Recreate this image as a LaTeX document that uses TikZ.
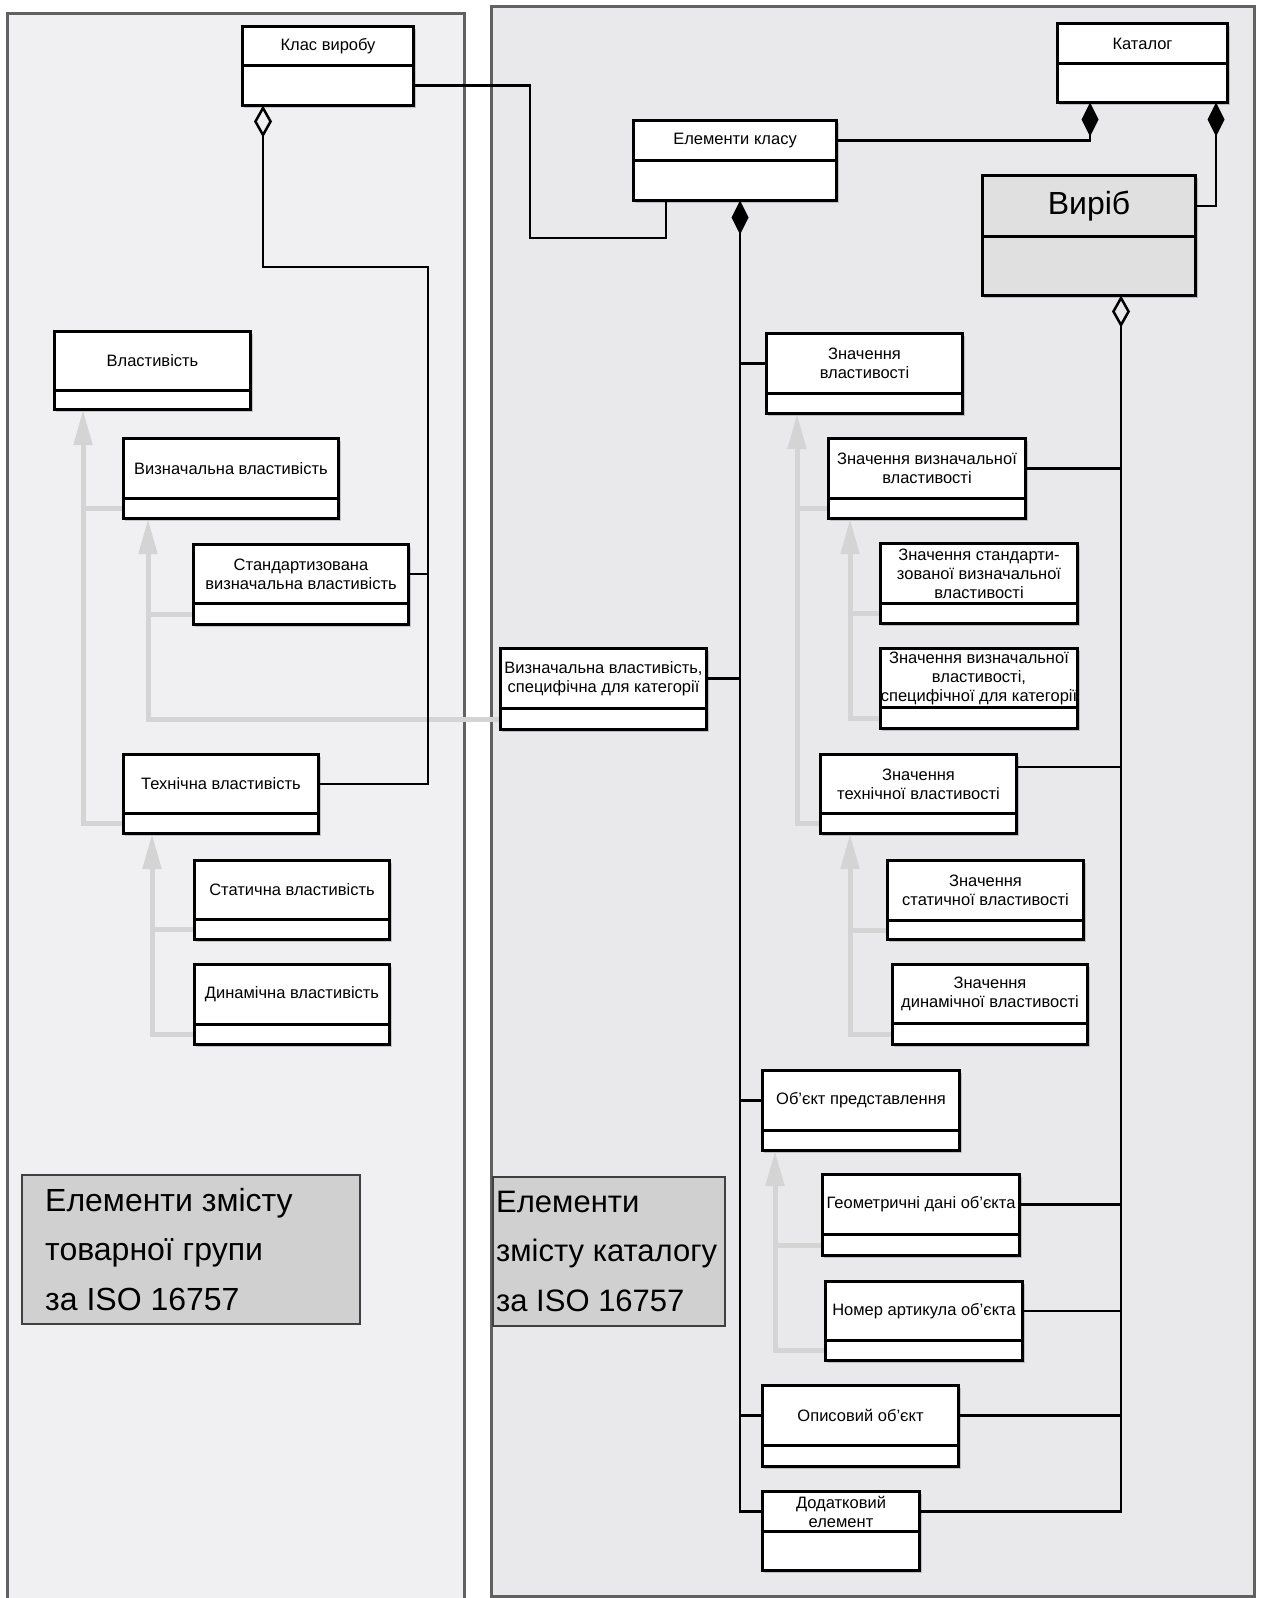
\documentclass[tikz,border=0pt]{standalone}
\usepackage{fontspec}
\setmainfont{Liberation Sans}
\usetikzlibrary{arrows.meta}
\definecolor{panelL}{HTML}{F0F0F2}
\definecolor{panelR}{HTML}{E9E9EC}
\definecolor{panelB}{HTML}{616161}
\definecolor{genc}{HTML}{D4D4D4}
\definecolor{labelc}{HTML}{D0D0D0}
\definecolor{virc}{HTML}{E0E0E0}
\tikzset{
 clsname/.style={draw=black, line width=3pt, fill=white, inner sep=0pt, align=center, font=\fontsize{16.5}{19}\selectfont},
 clsattr/.style={draw=black, line width=3pt, fill=white, inner sep=0pt},
 conn/.style={draw=black, line width=2.5pt},
 agg/.style={conn, {Diamond[open, length=32pt, width=18pt]}-},
 comp/.style={conn, {Diamond[length=34pt, width=17pt]}-},
 genl/.style={draw=genc, line width=5pt},
 gen/.style={genl, -{Triangle[length=35pt, width=18pt]}},
 shadowc/.style={fill=black, opacity=0.18},
 labelbox/.style={draw=black!75, line width=1.5pt, fill=labelc, inner sep=0pt},
 labeltext/.style={inner sep=0pt, align=left, font=\fontsize{31}{49.5}\selectfont},
}
% #1 name, #2 x1, #3 y1, #4 x2, #5 ydiv, #6 y2, #7 text, #8 extra style
\newcommand\umlcls[8]{%
  \fill[shadowc] (#2+3,#3+4) rectangle (#4+4,#6+4);
  \node[clsname,#8,minimum width={(#4-#2)*1pt},minimum height={(#5-#3)*1pt},anchor=north west] (#1) at (#2,#3) {#7};
  \node[clsattr,#8,minimum width={(#4-#2)*1pt},minimum height={(#6-#5)*1pt},anchor=north west] (#1a) at (#2,#5) {};
}
\begin{document}
\begin{tikzpicture}[x=1pt,y=-1pt]
\useasboundingbox (0,0) rectangle (1262,1598);
\fill[white] (0,0) rectangle (1262,1598);
% panels
\fill[panelL] (7,13) rectangle (464,1610);
\draw[panelB, line width=3pt] (7,1610) -- (7,13) -- (464,13) -- (464,1610);
\draw[panelB, fill=panelR, line width=3pt] (491,6) rectangle (1254,1596);

% left classes
\umlcls{klas}{241}{25}{412}{64}{104}{Клас виробу}{}
\umlcls{vl}{53}{330}{249}{389}{408}{Властивість}{}
\umlcls{vyz}{122}{437}{337}{497}{517}{Визначальна властивість}{}
\umlcls{stand}{192}{543}{407}{602}{623}{Стандартизована\\визначальна властивість}{}
\umlcls{tech}{122}{753}{317}{812}{832}{Технічна властивість}{}
\umlcls{stat}{193}{859}{388}{918}{938}{Статична властивість}{}
\umlcls{dyn}{193}{963}{388}{1023}{1043}{Динамічна властивість}{}

% right classes
\umlcls{kat}{1056}{22}{1226}{62}{101}{Каталог}{}
\umlcls{elem}{632}{119}{835}{159}{199}{Елементи класу}{}
\umlcls{vir}{981}{174}{1194}{235}{294}{\fontsize{32}{36}\selectfont Виріб}{fill=virc}
\umlcls{zv}{765}{332}{961}{392}{412}{Значення\\властивості}{}
\umlcls{zvv}{827}{437}{1024}{497}{517}{Значення визначальної\\властивості}{}
\umlcls{zsv}{879}{542}{1076}{602}{622}{Значення стандарти-\\зованої визначальної\\властивості}{}
\umlcls{zvk}{879}{647}{1076}{706}{727}{Значення визначальної\\властивості,\\специфічної для категорії}{}
\umlcls{vsk}{499}{647}{705}{707}{728}{Визначальна властивість,\\специфічна для категорії}{}
\umlcls{ztv}{819}{753}{1015}{812}{832}{Значення\\технічної властивості}{}
\umlcls{zst}{886}{859}{1082}{919}{938}{Значення\\статичної властивості}{}
\umlcls{zdv}{891}{963}{1086}{1022}{1043}{Значення\\динамічної властивості}{}
\umlcls{obj}{761}{1069}{958}{1129}{1149}{Об’єкт представлення}{}
\umlcls{geo}{821}{1173}{1018}{1233}{1254}{Геометричні дані об’єкта}{}
\umlcls{nom}{824}{1280}{1021}{1339}{1359}{Номер артикула об’єкта}{}
\umlcls{opys}{761}{1384}{957}{1444}{1465}{Описовий об’єкт}{}
\umlcls{dod}{761}{1490}{918}{1530}{1569}{Додатковий\\елемент}{}

% labels
\node[labelbox, minimum width=338pt, minimum height=149pt, anchor=north west] (lab1) at (21,1174) {};
\node[labeltext, font=\fontsize{32}{49.5}\selectfont, anchor=west] (lab1t) at ([xshift=24pt]lab1.west) {Елементи змісту\\товарної групи\\за ISO 16757};
\node[labelbox, minimum width=232pt, minimum height=149pt, anchor=north west] (lab2) at (492,1176) {};
\node[labeltext, anchor=west] (lab2t) at ([xshift=4pt]lab2.west) {Елементи\\змісту каталогу\\за ISO 16757};

% generalisation (grey)
\coordinate (g1) at (83,410);
\draw[gen] (techa.west) -| (g1);
\draw[genl] (vyza.west) -- (vyza.west -| g1);
\coordinate (g2) at (148,519);
\draw[gen] (vska.west) -| (g2);
\draw[genl] (standa.west) -- (standa.west -| g2);
\coordinate (g3) at (152,834);
\draw[gen] (dyna.west) -| (g3);
\draw[genl] (stata.west) -- (stata.west -| g3);
\coordinate (g4) at (797,414);
\draw[gen] (ztva.west) -| (g4);
\draw[genl] (zvva.west) -- (zvva.west -| g4);
\coordinate (g5) at (850,519);
\draw[gen] (zvka.west) -| (g5);
\draw[genl] (zsva.west) -- (zsva.west -| g5);
\coordinate (g6) at (850,834);
\draw[gen] (zdva.west) -| (g6);
\draw[genl] (zsta.west) -- (zsta.west -| g6);
\coordinate (g7) at (775,1151);
\draw[gen] (noma.west) -| (g7);
\draw[genl] (geoa.west) -- (geoa.west -| g7);

% associations (black)
\coordinate (j1) at (530,238);
\coordinate (e1) at (666,200.5);
\draw[conn] (klasa.east) -| (j1) -| (e1);
\coordinate (kd1) at (1090,102.5);
\draw[comp] (kd1) |- (elem.east);
\coordinate (kd2) at (1216,102.5);
\draw[comp] (kd2) |- (vir.east);
\coordinate (kl1) at (263,105.5);
\coordinate (kl2) at (428,267);
\draw[agg] (kl1) |- (kl2) |- (tech.east);
\draw[conn] (stand.east) -- (stand.east -| kl2);
\coordinate (ek1) at (740,200.5);
\draw[comp] (ek1) |- (dod.west);
\draw[conn] (zv.west) -- (zv.west -| ek1);
\draw[conn] (vsk.east) -- (vsk.east -| ek1);
\draw[conn] (obj.west) -- (obj.west -| ek1);
\draw[conn] (opys.west) -- (opys.west -| ek1);
\coordinate (vr1) at (1121,295.5);
\draw[agg] (vr1) |- (dod.east);
\draw[conn] (zvv.east) -- (zvv.east -| vr1);
\coordinate (ztvc) at ([yshift=-14pt]ztv.north east);
\draw[conn] (ztvc) -- (ztvc -| vr1);
\draw[conn] (geo.east) -- (geo.east -| vr1);
\draw[conn] (nom.east) -- (nom.east -| vr1);
\draw[conn] (opys.east) -- (opys.east -| vr1);
\end{tikzpicture}
\end{document}
